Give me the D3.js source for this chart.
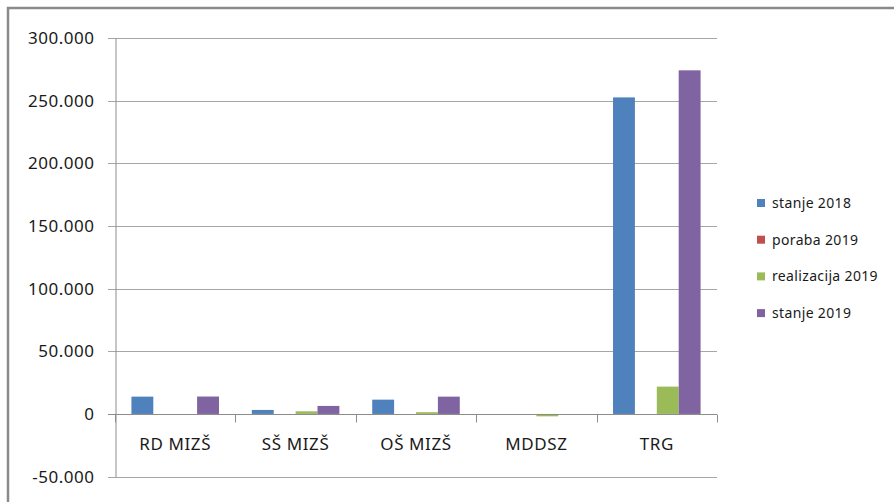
<!DOCTYPE html>
<html>
<head>
<meta charset="utf-8">
<script src="https://cdn.jsdelivr.net/npm/d3@7"></script>
<style>
  body { margin: 0; background: #fff; }
  text { font-family: "Noto Sans", sans-serif; fill: #1a1a1a; }
</style>
</head>
<body>
<div id="chart"></div>
<script>
// data
var categories = ["RD MIZŠ", "SŠ MIZŠ", "OŠ MIZŠ", "MDDSZ", "TRG"];
var seriesNames = ["stanje 2018", "poraba 2019", "realizacija 2019", "stanje 2019"];
var stanje2018 = [13800, 3200, 11400, 0, 252600];
var poraba2019 = [0, 0, 0, 0, 0];
var realizacija2019 = [0, 2100, 1400, -1900, 21800];
var stanje2019 = [13900, 6400, 13800, 0, 274200];
var yTicks = [-50000, 0, 50000, 100000, 150000, 200000, 250000, 300000];
var colors = ["#4F81BD", "#C0504D", "#9BBB59", "#8064A2"];

var allSeries = [stanje2018, poraba2019, realizacija2019, stanje2019];

var svgWidth = 894, svgHeight = 502;
var plotLeft = 115, plotRight = 717, plotTop = 38, plotBottom = 476.6;

var svg = d3.select("#chart").append("svg")
    .attr("width", svgWidth)
    .attr("height", svgHeight);

// outer chart border
svg.append("rect")
    .attr("x", 8).attr("y", 8)
    .attr("width", svgWidth).attr("height", svgHeight)
    .attr("fill", "#fff")
    .attr("stroke", "#8a8a8a")
    .attr("stroke-width", 2.5);

var locale = d3.formatLocale({decimal: ",", thousands: ".", grouping: [3], currency: ["", ""], minus: "-"});
var fmt = locale.format(",d");

var y = d3.scaleLinear().domain([-50000, 300000]).range([plotBottom, plotTop]);
var x0 = d3.scaleBand().domain(categories).range([plotLeft, plotRight]).padding(0);
var cw = x0.bandwidth();
var bw = cw / 5.5;
var x1 = d3.scaleBand().domain(seriesNames).range([bw * 0.75, cw - bw * 0.75]).padding(0);

// gridlines
svg.append("g").selectAll("line")
    .data(yTicks)
    .enter().append("line")
    .attr("x1", plotLeft - 7).attr("x2", plotRight)
    .attr("y1", d => Math.round(y(d)) + 0.5)
    .attr("y2", d => Math.round(y(d)) + 0.5)
    .attr("stroke", d => d === 0 ? "#8c8c8c" : "#a6a6a6")
    .attr("stroke-width", 1);

// y axis
var yAxis = svg.append("g")
    .attr("transform", "translate(" + (plotLeft + 0.5) + ",0)")
    .call(d3.axisLeft(y).tickValues(yTicks).tickFormat(fmt).tickSize(0).tickPadding(21));
yAxis.select(".domain").attr("stroke", "#8c8c8c");
yAxis.selectAll("text")
    .style("font-family", "Noto Sans, sans-serif")
    .style("font-size", "17px")
    .style("letter-spacing", "0.5px")
    .attr("fill", "#1a1a1a");

// bars
var groups = svg.append("g").selectAll("g")
    .data(categories)
    .enter().append("g")
    .attr("transform", d => "translate(" + x0(d) + ",0)");

groups.selectAll("rect")
    .data((d, i) => seriesNames.map((s, k) => ({series: s, value: allSeries[k][i], k: k})))
    .enter().append("rect")
    .filter(d => d.value !== 0)
    .attr("x", d => x1(d.series))
    .attr("width", x1.bandwidth())
    .attr("y", d => y(Math.max(0, d.value)))
    .attr("height", d => Math.abs(y(d.value) - y(0)))
    .attr("fill", d => colors[d.k]);

// x axis at zero with category ticks
var zeroY = Math.round(y(0)) + 0.5;
svg.append("line")
    .attr("x1", plotLeft).attr("x2", plotRight)
    .attr("y1", zeroY).attr("y2", zeroY)
    .attr("stroke", "#8c8c8c");
svg.append("g").selectAll("line")
    .data(d3.range(categories.length + 1))
    .enter().append("line")
    .attr("x1", i => Math.round(plotLeft + i * cw) + 0.5)
    .attr("x2", i => Math.round(plotLeft + i * cw) + 0.5)
    .attr("y1", zeroY).attr("y2", zeroY + 8)
    .attr("stroke", "#8c8c8c");

svg.append("g").selectAll("text")
    .data(categories)
    .enter().append("text")
    .attr("x", d => x0(d) + cw / 2)
    .attr("y", 450)
    .attr("text-anchor", "middle")
    .style("font-size", "17px")
    .style("letter-spacing", "0.6px")
    .text(d => d);

// legend
var legend = svg.append("g").selectAll("g")
    .data(seriesNames)
    .enter().append("g")
    .attr("transform", (d, i) => "translate(757," + (203 + i * 36.7) + ")");
legend.append("rect")
    .attr("x", 0).attr("y", -4)
    .attr("width", 8).attr("height", 8)
    .attr("fill", (d, i) => colors[i]);
legend.append("text")
    .attr("x", 15).attr("y", 5)
    .style("font-size", "14px")
    .style("letter-spacing", "0.35px")
    .text(d => d);
</script>
</body>
</html>
